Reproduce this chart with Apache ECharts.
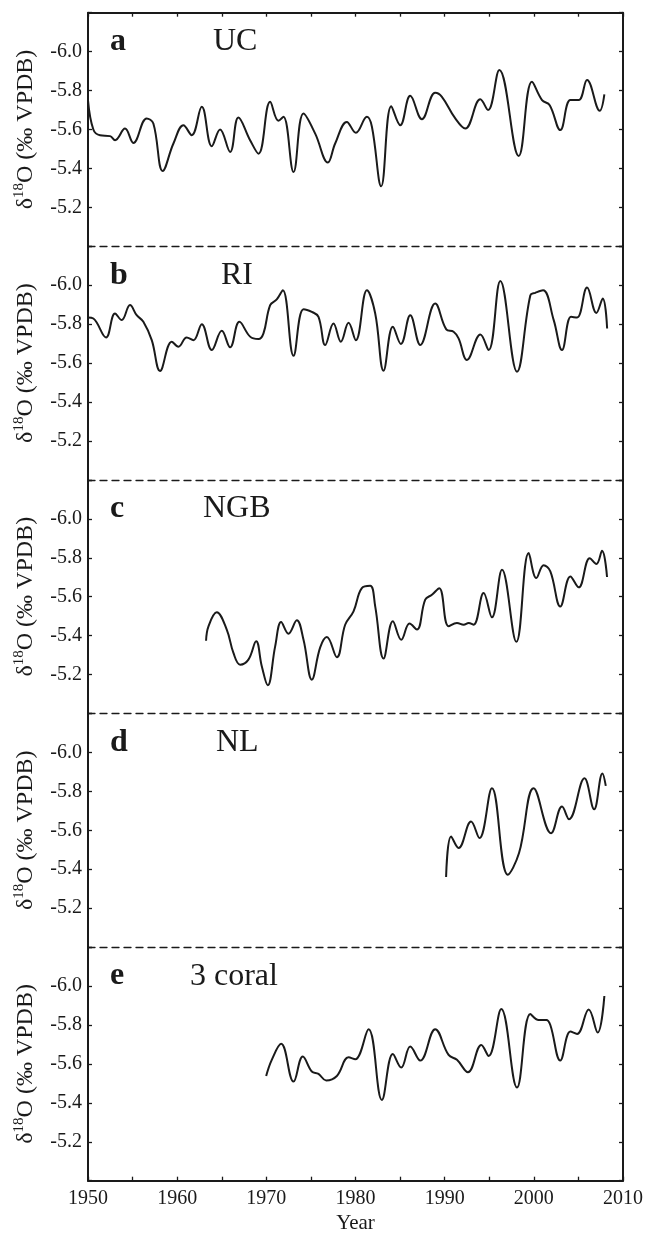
<!DOCTYPE html>
<html>
<head>
<meta charset="utf-8">
<script src="https://cdn.jsdelivr.net/npm/echarts@6/dist/echarts.min.js"></script>
<style>
html,body{margin:0;padding:0;background:#fff;}
#chart{width:654px;height:1233px;}
</style>
</head>
<body>
<div id="chart"></div>
<script>
// panel labels
var panelLetters = ['a', 'b', 'c', 'd', 'e'];
var panelNames = ['UC', 'RI', 'NGB', 'NL', '3 coral'];
var nameX = [213, 221, 203, 216, 190];

// tick labels
var yLabels = [-6.0, -5.8, -5.6, -5.4, -5.2];
var yearLabels = [1950, 1960, 1970, 1980, 1990, 2000, 2010];

// d18O series, [year, value]
var uc = [
    [1950.0,-5.75],[1950.6,-5.60],[1951.35,-5.57],[1952.47,-5.566],[1953.03,-5.545],[1954.15,-5.605],
    [1955.09,-5.531],[1956.58,-5.657],[1957.33,-5.631],[1958.38,-5.387],[1959.58,-5.528],[1960.7,-5.622],
    [1961.63,-5.571],[1962.76,-5.717],[1963.88,-5.514],[1964.81,-5.60],[1965.94,-5.485],[1966.87,-5.662],
    [1968.18,-5.545],[1969.12,-5.476],[1970.43,-5.742],[1971.36,-5.645],[1971.92,-5.665],[1973.05,-5.382],
    [1974.17,-5.682],[1975.48,-5.579],[1976.9,-5.43],[1977.72,-5.528],[1979.03,-5.639],[1980.04,-5.583],
    [1981.28,-5.665],[1981.84,-5.614],[1982.88,-5.308],[1984.01,-5.72],[1985.02,-5.622],[1986.14,-5.773],
    [1987.45,-5.653],[1988.94,-5.789],[1989.69,-5.768],[1991.19,-5.657],[1992.31,-5.605],[1994.0,-5.755],
    [1994.86,-5.70],[1996.13,-5.906],[1998.3,-5.464],[1999.79,-5.845],[2000.92,-5.751],[2001.78,-5.725],
    [2002.97,-5.597],[2004.1,-5.751],[2005.03,-5.751],[2005.97,-5.854],[2007.39,-5.696],[2007.91,-5.78]
];
var ri = [
    [1950.0,-5.834],[1950.6,-5.829],[1952.02,-5.732],[1953.03,-5.855],[1953.78,-5.821],[1954.71,-5.898],
    [1955.46,-5.846],[1956.21,-5.812],[1957.15,-5.718],[1958.08,-5.56],[1959.39,-5.71],[1960.14,-5.684],
    [1961.07,-5.732],[1961.82,-5.718],[1962.76,-5.80],[1963.88,-5.667],[1965.0,-5.766],[1965.94,-5.681],
    [1966.98,-5.812],[1968.18,-5.736],[1969.12,-5.724],[1969.68,-5.753],[1970.43,-5.898],[1971.17,-5.927],
    [1971.85,-5.974],[1973.05,-5.638],[1974.17,-5.877],[1975.1,-5.863],[1975.85,-5.838],[1976.6,-5.693],
    [1977.53,-5.804],[1978.36,-5.71],[1979.22,-5.807],[1980.04,-5.718],[1981.28,-5.974],[1982.21,-5.855],
    [1983.15,-5.561],[1984.19,-5.787],[1985.09,-5.698],[1986.14,-5.846],[1987.26,-5.693],[1988.94,-5.906],
    [1990.18,-5.773],[1991.0,-5.761],[1991.56,-5.727],[1992.5,-5.616],[1994.0,-5.747],[1994.93,-5.667],
    [1996.24,-6.022],[1998.11,-5.556],[1999.61,-5.949],[2000.17,-5.961],[2001.03,-5.974],[2002.23,-5.821],
    [2003.16,-5.667],[2004.17,-5.838],[2004.85,-5.834],[2005.97,-5.988],[2007.01,-5.858],[2007.73,-5.932],
    [2008.22,-5.778]
];
var ngb = [
    [1963.24,-5.374],[1963.51,-5.448],[1964.44,-5.52],[1965.56,-5.431],[1966.31,-5.311],[1967.06,-5.251],
    [1967.99,-5.277],[1968.86,-5.371],[1969.49,-5.243],[1970.16,-5.145],[1970.99,-5.345],[1971.66,-5.47],
    [1972.48,-5.41],[1973.42,-5.479],[1974.17,-5.379],[1975.1,-5.174],[1976.04,-5.34],[1976.79,-5.393],
    [1977.91,-5.289],[1978.84,-5.456],[1979.78,-5.525],[1980.71,-5.644],[1981.65,-5.656],[1982.21,-5.55],
    [1983.15,-5.282],[1984.19,-5.474],[1985.13,-5.379],[1986.06,-5.462],[1986.89,-5.431],[1987.82,-5.585],
    [1988.57,-5.61],[1989.39,-5.644],[1990.44,-5.448],[1991.38,-5.465],[1992.13,-5.456],[1992.69,-5.465],
    [1993.25,-5.456],[1994.37,-5.619],[1995.3,-5.494],[1996.43,-5.738],[1998.04,-5.368],[1999.42,-5.824],
    [2000.28,-5.696],[2001.1,-5.762],[2001.85,-5.73],[2002.97,-5.55],[2004.1,-5.704],[2005.03,-5.648],
    [2006.27,-5.798],[2007.01,-5.768],[2007.65,-5.836],[2008.21,-5.701]
];
var nl = [
    [1990.16,-5.36],[1990.72,-5.568],[1991.56,-5.509],[1992.96,-5.645],[1993.9,-5.56],[1995.3,-5.816],
    [1997.08,-5.372],[1998.34,-5.483],[1999.98,-5.816],[2001.94,-5.585],[2003.16,-5.722],[2003.95,-5.657],
    [2005.68,-5.867],[2006.76,-5.708],[2007.69,-5.892],[2008.07,-5.828]
];
var coral3 = [
    [1969.98,-5.538],[1970.61,-5.621],[1971.66,-5.703],[1973.05,-5.509],[1974.09,-5.638],[1975.1,-5.561],
    [1975.85,-5.549],[1976.71,-5.515],[1977.91,-5.538],[1979.22,-5.634],[1979.97,-5.624],[1981.46,-5.778],
    [1982.96,-5.415],[1984.19,-5.651],[1985.13,-5.581],[1986.14,-5.689],[1987.26,-5.617],[1988.94,-5.778],
    [1990.44,-5.646],[1991.38,-5.621],[1992.61,-5.557],[1994.11,-5.697],[1994.93,-5.641],[1996.35,-5.882],
    [1998.11,-5.479],[1999.61,-5.856],[2000.54,-5.826],[2001.4,-5.826],[2001.85,-5.80],[2002.97,-5.617],
    [2004.1,-5.766],[2004.85,-5.754],[2006.15,-5.88],[2007.16,-5.761],[2007.91,-5.949]
];
var seriesData = [uc, ri, ngb, nl, coral3];

var serif = 'Liberation Serif';
var ink = '#1a1a1a';
var panelTop = 12.7, panelH = 233.6;

var grids = [], xAxes = [], yAxes = [], series = [], graphics = [];

for (var i = 0; i < 5; i++) {
    var panelY = panelTop + i * panelH;   // not "top": that name is taken by window.top
    var last = (i === 4);
    grids.push({left: 88, right: 31, top: panelY, height: panelH, outerBoundsMode: 'none'});

    xAxes.push({
        type: 'value', gridIndex: i, position: 'bottom',
        min: 1950, max: 2010, interval: 5,
        axisLine: {show: true, lineStyle: {color: ink, width: last ? 2 : 1.3, type: last ? 'solid' : [7, 5]}},
        axisTick: {show: last, inside: true, length: 4, lineStyle: {color: ink, width: 1.3}},
        axisLabel: {
            show: last, margin: 8, color: ink, fontFamily: serif, fontSize: 20,
            formatter: function (v) { return yearLabels.indexOf(v) >= 0 ? String(v) : ''; }
        },
        splitLine: {show: false},
        name: last ? 'Year' : '', nameLocation: 'middle', nameGap: 32,
        nameTextStyle: {color: ink, fontFamily: serif, fontSize: 21}
    });

    yAxes.push({
        type: 'value', gridIndex: i, position: 'left', inverse: true,
        min: -6.2, max: -5.0, interval: 0.2,
        axisLine: {show: true, lineStyle: {color: ink, width: 2}},
        axisTick: {inside: true, length: 4, lineStyle: {color: ink, width: 1.3}},
        axisLabel: {
            margin: 6, color: ink, fontFamily: serif, fontSize: 20,
            formatter: function (v) {
                for (var k = 0; k < yLabels.length; k++) {
                    if (Math.abs(yLabels[k] - v) < 1e-6) return yLabels[k].toFixed(1);
                }
                return '';
            }
        },
        splitLine: {show: false},
        name: 'δ{sup|18}O (‰ VPDB)', nameLocation: 'middle', nameRotate: 90, nameGap: 48,
        nameTextStyle: {
            color: ink, fontFamily: serif, fontSize: 24,
            rich: {sup: {fontSize: 15, fontFamily: serif, color: ink, padding: [0, 0, 13, 0]}}
        }
    });
    yAxes.push({
        type: 'value', gridIndex: i, position: 'right', inverse: true,
        min: -6.2, max: -5.0, interval: 0.2,
        axisLine: {show: true, lineStyle: {color: ink, width: 2}},
        axisTick: {inside: true, length: 4, lineStyle: {color: ink, width: 1.3}},
        axisLabel: {show: false},
        splitLine: {show: false}
    });

    series.push({
        type: 'line', xAxisIndex: i, yAxisIndex: i * 2,
        data: seriesData[i], smooth: 0.4, showSymbol: false,
        lineStyle: {color: ink, width: 2}, silent: true
    });

    graphics.push({
        type: 'text', x: 110, y: panelY + 29,
        style: {text: panelLetters[i], fontFamily: serif, fontSize: 32, fontWeight: 'bold', fill: ink, verticalAlign: 'middle'}
    });
    graphics.push({
        type: 'text', x: nameX[i], y: panelY + 29,
        style: {text: panelNames[i], fontFamily: serif, fontSize: 32, fill: ink, verticalAlign: 'middle'}
    });
}

// solid frame line along the top with year ticks
xAxes.push({
    type: 'value', gridIndex: 0, position: 'top',
    min: 1950, max: 2010, interval: 5,
    axisLine: {show: true, lineStyle: {color: ink, width: 2}},
    axisTick: {show: true, inside: true, length: 4, lineStyle: {color: ink, width: 1.3}},
    axisLabel: {show: false},
    splitLine: {show: false}
});

var myChart = echarts.init(document.getElementById('chart'));
myChart.setOption({
    animation: false,
    backgroundColor: '#fff',
    grid: grids,
    xAxis: xAxes,
    yAxis: yAxes,
    series: series,
    graphic: graphics
});
</script>
</body>
</html>
